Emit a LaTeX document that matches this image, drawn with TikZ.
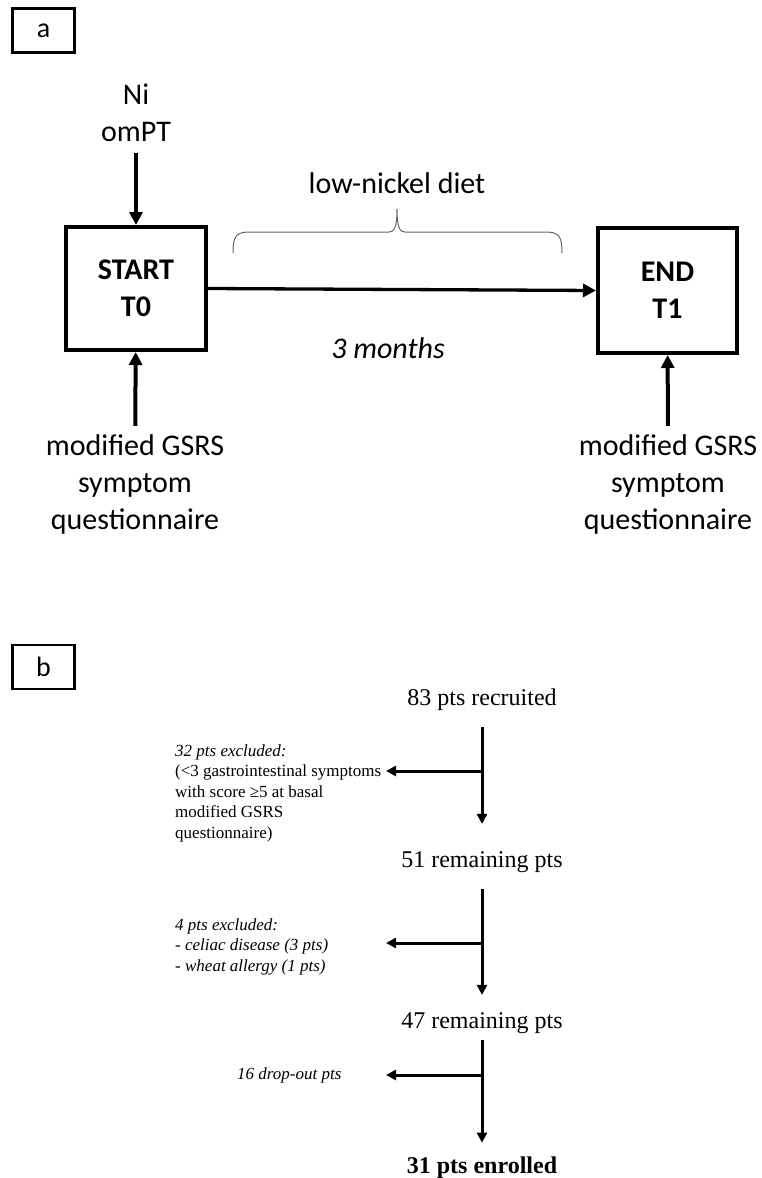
\documentclass[tikz,border=0pt]{standalone}
\usepackage{fontspec}
\setmainfont{Liberation Serif}
\newfontfamily\calib{Carlito}
\usetikzlibrary{arrows.meta}

\begin{document}
\begin{tikzpicture}[x=1pt,y=-1pt,
    panel/.style={draw,line width=2.5pt,minimum width=62pt,minimum height=44pt,
        inner sep=0pt,font=\calib\fontsize{28}{34}\selectfont},
    timebox/.style={draw,line width=4pt,minimum width=140pt,minimum height=123pt,
        inner sep=0pt,align=center,font=\calib\bfseries\fontsize{30}{37}\selectfont},
    big/.style={inner sep=0pt,align=center,font=\calib\fontsize{30}{37}\selectfont},
    bigit/.style={inner sep=0pt,font=\calib\itshape\fontsize{30}{37}\selectfont},
    fatarrow/.style={line width=4pt,-{Triangle[width=13pt,length=13pt]}},
    flow/.style={line width=3pt,-{Triangle[width=10pt,length=10pt]}},
    flowtxt/.style={inner sep=0pt,anchor=base,font=\fontsize{24}{29}\selectfont},
    note/.style={inner sep=0pt,align=left,font=\fontsize{17}{20.5}\selectfont},
    brace/.style={line width=1pt,draw=black!60}]
    \useasboundingbox (0,0) rectangle (761,1178);

    % panel a
    \node[panel] (pa) at (43.5,30.5) {a};
    \node[big] (ni) at (136,113) {Ni\\omPT};
    \node[timebox] (start) at (136,288.5) {START\\T0};
    \node[timebox,minimum width=139pt,minimum height=125pt] (end) at (667.5,290.5) {END\\T1};
    \node[big,anchor=base] (diet) at (397,193) {low-nickel diet};
    \node[bigit,anchor=base] (months) at (388,358) {3 months};
    \node[big] (gsrsL) at (135,484) {modified GSRS\\symptom\\questionnaire};
    \node[big] (gsrsR) at (668,484) {modified GSRS\\symptom\\questionnaire};

    \draw[brace] (233,253) .. controls (233,236) and (236,232) .. (250,232)
        -- (389,232) .. controls (394,232) and (397,228) .. (397,209)
        .. controls (397,228) and (400,232) .. (405,232)
        -- (545,232) .. controls (559,232) and (562,236) .. (562,253);

    \draw[fatarrow,shorten <=11pt] (ni) -- (start);
    \draw[fatarrow,line width=3.3pt] (start.east) -- (end.west);
    \draw[fatarrow,shorten <=8pt] (gsrsL) -- (start);
    \draw[fatarrow,shorten <=8pt] (gsrsR) -- (end);

    % panel b
    \node[panel] (pb) at (43.5,667) {b};
    \node[flowtxt] (n83) at (482,705) {83 pts recruited};
    \node[flowtxt] (n51) at (482,867) {51 remaining pts};
    \node[flowtxt] (n47) at (482,1028) {47 remaining pts};
    \node[flowtxt,font=\bfseries\fontsize{24}{29}\selectfont] (n31) at (482,1173) {31 pts enrolled};

    \node[note,anchor=north west] (ex1) at (175,744) {\textit{32 pts excluded:}\\(<3 gastrointestinal symptoms\\with score ≥5 at basal\\modified GSRS\\questionnaire)};
    \node[note,anchor=north west,font=\itshape\fontsize{17}{20.5}\selectfont] (ex2) at (175,918) {4 pts excluded:\\- celiac disease (3 pts)\\- wheat allergy (1 pts)};
    \node[note,anchor=base west,font=\itshape\fontsize{17}{20.5}\selectfont] (drop) at (237,1079) {16 drop-out pts};

    \draw[flow,shorten <=17pt,shorten >=27pt] (n83.south) -- (n51.north);
    \draw[flow,shorten <=17pt,shorten >=17pt] (n51.south) -- (n47.north);
    \draw[flow,shorten <=7pt,shorten >=13.5pt] (n47.south) -- (n31.north);

    % side branches
    \foreach \i/\yy in {1/771,2/943,3/1075}
    {
        \coordinate (j\i) at (482,\yy);
        \coordinate (k\i) at (386,\yy);
        \draw[flow] (j\i) -- (k\i);
    }

\end{tikzpicture}
\end{document}
